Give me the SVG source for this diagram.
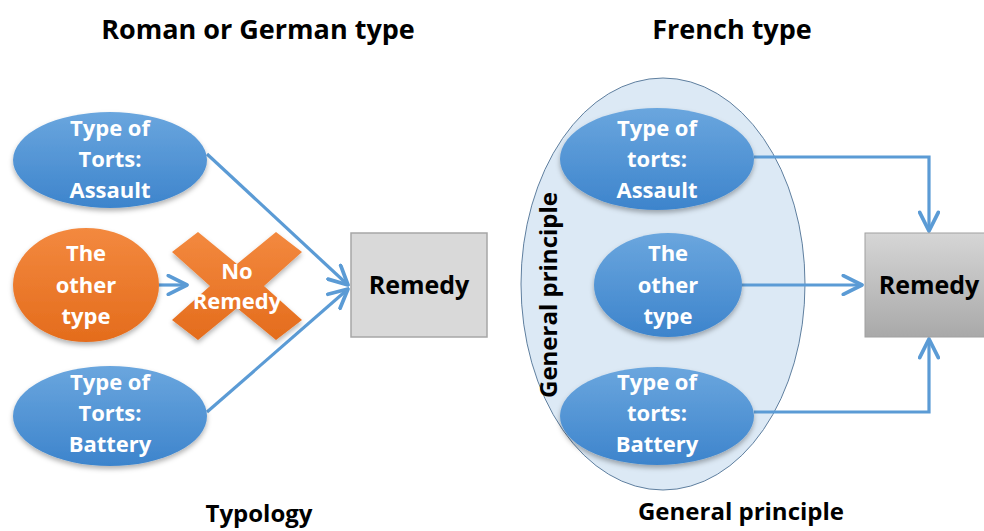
<svg xmlns="http://www.w3.org/2000/svg" width="984" height="531" viewBox="0 0 984 531">
<defs>
<linearGradient id="gBlue" x1="0" y1="0" x2="0" y2="1"><stop offset="0" stop-color="#6aa6de"/><stop offset="1" stop-color="#3d84cc"/></linearGradient>
<linearGradient id="gOrange" x1="0" y1="0" x2="0" y2="1"><stop offset="0" stop-color="#f3893f"/><stop offset="1" stop-color="#e46c1c"/></linearGradient>
<linearGradient id="gGrey" x1="0" y1="0" x2="0" y2="1"><stop offset="0" stop-color="#d6d6d6"/><stop offset="1" stop-color="#a9a9a9"/></linearGradient>
<filter id="sh" x="-20%" y="-20%" width="140%" height="150%"><feDropShadow dx="0" dy="3" stdDeviation="2.5" flood-color="#000" flood-opacity="0.3"/></filter>
<marker id="arr" viewBox="0 0 12 12" refX="11" refY="6" markerWidth="7" markerHeight="7" markerUnits="strokeWidth" orient="auto"><path d="M1,1 L11,6 L1,11" fill="none" stroke="#5b9bd5" stroke-width="2" stroke-linecap="round" stroke-linejoin="round"/></marker>
</defs>
<style>
.title{font-family:"Open Sans","Liberation Sans",sans-serif;font-weight:bold;font-size:27px;fill:#000;text-anchor:middle}
.sub{font-family:"Open Sans","Liberation Sans",sans-serif;font-weight:bold;font-size:24px;fill:#000;text-anchor:middle}
.wt{font-family:"Open Sans","Liberation Sans",sans-serif;font-weight:bold;font-size:22px;fill:#fff;text-anchor:middle}
.bt{font-family:"Open Sans","Liberation Sans",sans-serif;font-weight:bold;font-size:25px;fill:#000;text-anchor:middle}
.blue{fill:url(#gBlue);filter:url(#sh)}
.conn{fill:none;stroke:#5b9bd5;stroke-width:3.2;marker-end:url(#arr)}
</style>
<rect width="984" height="531" fill="#fff"/>
<text class="title" x="258" y="39">Roman or German type</text>
<text class="title" x="732" y="39">French type</text>
<text class="sub" x="259" y="522">Typology</text>
<text class="sub" x="741" y="520">General principle</text>

<g id="group-general">
<ellipse cx="663" cy="284" rx="142" ry="206" fill="#dce9f5" stroke="#5f7f9f" stroke-width="1"/>
<text class="sub" transform="translate(557,295) rotate(-90)" font-size="20">General principle</text>
</g>

<g id="connectors">
<line class="conn" x1="207" y1="154" x2="348" y2="285"/>
<line class="conn" x1="207" y1="412" x2="348" y2="289"/>
<line class="conn" x1="159" y1="285" x2="187" y2="285"/>
<path class="conn" d="M754,157 H929 V231"/>
<line class="conn" x1="742" y1="285" x2="862" y2="285"/>
<path class="conn" d="M754,412 H929 V339"/>
</g>

<g id="l-assault">
<ellipse class="blue" cx="110" cy="160" rx="97" ry="48"/>
<text class="wt" x="110" y="136">Type of</text>
<text class="wt" x="110" y="167">Torts:</text>
<text class="wt" x="110" y="198">Assault</text>
</g>
<g id="l-other">
<ellipse cx="86" cy="285" rx="73" ry="57" fill="url(#gOrange)" filter="url(#sh)"/>
<text class="wt" x="86" y="261">The</text>
<text class="wt" x="86" y="293">other</text>
<text class="wt" x="86" y="324">type</text>
</g>
<g id="l-noremedy">
<polygon points="172,252 198,232 237,264 276,232 302,252 264,286 302,320 276,340 237,308 198,340 172,320 210,286" fill="url(#gOrange)" filter="url(#sh)"/>
<text class="wt" x="237" y="279">No</text>
<text class="wt" x="237" y="309">Remedy</text>
</g>
<g id="l-battery">
<ellipse class="blue" cx="110" cy="416" rx="97" ry="50"/>
<text class="wt" x="110" y="390">Type of</text>
<text class="wt" x="110" y="421">Torts:</text>
<text class="wt" x="110" y="452">Battery</text>
</g>
<g id="l-remedy">
<rect x="351" y="233" width="136" height="104" fill="#d9d9d9" stroke="#a6a6a6" stroke-width="1.5"/>
<text class="bt" x="419" y="294">Remedy</text>
</g>

<g id="r-assault">
<ellipse class="blue" cx="657" cy="159" rx="97" ry="51"/>
<text class="wt" x="657" y="136">Type of</text>
<text class="wt" x="657" y="167">torts:</text>
<text class="wt" x="657" y="198">Assault</text>
</g>
<g id="r-other">
<ellipse class="blue" cx="668" cy="285" rx="74" ry="52"/>
<text class="wt" x="668" y="261">The</text>
<text class="wt" x="668" y="293">other</text>
<text class="wt" x="668" y="324">type</text>
</g>
<g id="r-battery">
<ellipse class="blue" cx="657" cy="416" rx="97" ry="49"/>
<text class="wt" x="657" y="390">Type of</text>
<text class="wt" x="657" y="421">torts:</text>
<text class="wt" x="657" y="452">Battery</text>
</g>
<g id="r-remedy">
<rect x="865" y="233" width="138" height="104" fill="url(#gGrey)" stroke="#a0a0a0" stroke-width="1"/>
<text class="bt" x="929" y="294">Remedy</text>
</g>
</svg>
